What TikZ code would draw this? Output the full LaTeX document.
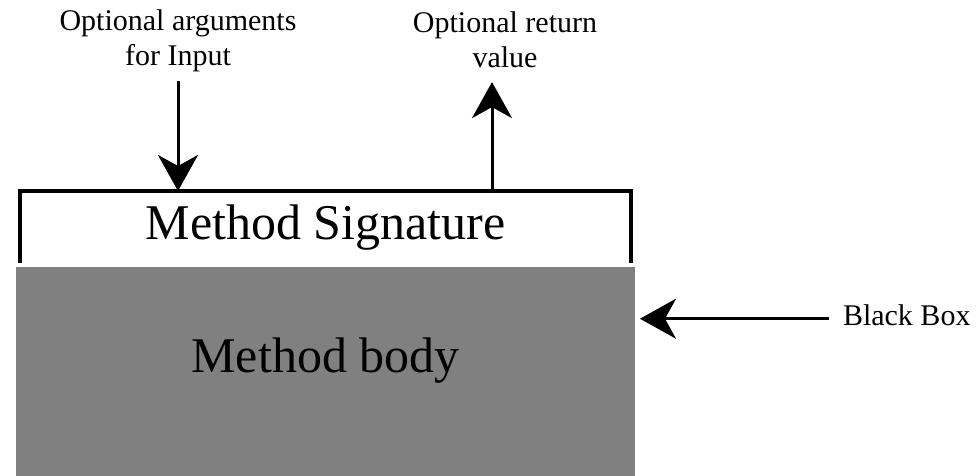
\documentclass[tikz,border=0pt]{standalone}
\usepackage{fontspec}
\setmainfont{Liberation Serif}
\usetikzlibrary{
  arrows.meta,
  calc,
  positioning,
}
\definecolor{bodygray}{HTML}{808080}
\tikzset{
  x = 1pt,
  y = -1pt,
  lbl/.style={
    align=center, inner sep=0pt, outer sep=0pt,
    font=\fontsize{30}{35}\selectfont,
  },
  big/.style={
    inner sep=0pt, outer sep=0pt,
    font=\fontsize{50}{60}\selectfont,
  },
  >={Stealth[length=36pt,width=40pt,inset=11pt]},
  flow/.style={->, line width=3pt},
}

\begin{document}
\begin{tikzpicture}
  \useasboundingbox (0,0) rectangle (978,476);
  %%
  \node[big, fill=bodygray, anchor=base, minimum width=619pt,
    text height=105pt, text depth=104pt](Body) at (325.5,372){Method body};
  \node[big, anchor=base, minimum width=611pt,
    text height=49pt, text depth=23pt](Sig) at (325.5,240){Method Signature};
  \draw[line width=3.5pt](Sig.south west) -- (Sig.north west)
    -- (Sig.north east) -- (Sig.south east);
  %%
  \node[lbl, anchor=north](In) at (178,10){Optional arguments\\for Input};
  \node[lbl, anchor=north](Out) at (505,12){Optional return\\value};
  \node[lbl, anchor=base west](BB) at (843,325){Black Box};
  %%
  \draw[flow, shorten <=9pt](In.south) -- (In.south |- Sig.north);
  \draw[flow, shorten >=14pt]([xshift=-13pt]Out.south |- Sig.north)
    -- ([xshift=-13pt]Out.south);
  \draw[flow, shorten <=14pt, shorten >=5pt]([yshift=-4pt]BB.west)
    -- ([yshift=-4pt]BB.west -| Body.east);
\end{tikzpicture}
\end{document}
